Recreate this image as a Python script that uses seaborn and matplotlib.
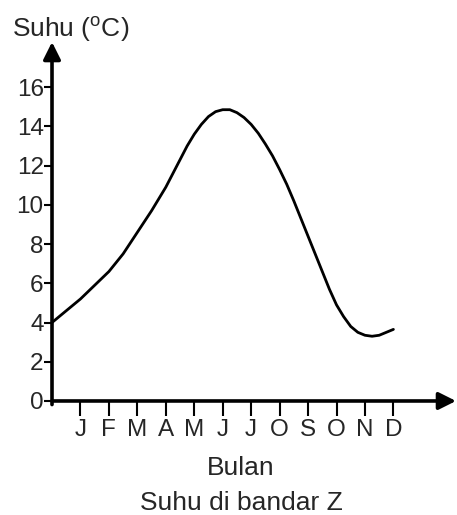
import matplotlib
matplotlib.use('Agg')
import matplotlib.pyplot as plt
import seaborn as sns

# Temperature curve, every quarter month (0 = y axis, 1 = Jan ... 12 = Dec)
bulan_x = [0, 0.25, 0.5, 0.75, 1, 1.25, 1.5, 1.75, 2, 2.25, 2.5, 2.75,
           3, 3.25, 3.5, 3.75, 4, 4.25, 4.5, 4.75, 5, 5.25, 5.5, 5.75,
           6, 6.25, 6.5, 6.75, 7, 7.25, 7.5, 7.75, 8, 8.25, 8.5, 8.75,
           9, 9.25, 9.5, 9.75, 10, 10.25, 10.5, 10.75, 11, 11.25, 11.5, 11.75, 12]
suhu = [4.0, 4.3, 4.6, 4.9, 5.2, 5.55, 5.9, 6.25, 6.6, 7.05, 7.5, 8.05,
        8.6, 9.15, 9.7, 10.3, 10.9, 11.6, 12.3, 13.0, 13.6, 14.1, 14.5, 14.75,
        14.85, 14.85, 14.7, 14.45, 14.1, 13.65, 13.1, 12.5, 11.8, 11.05, 10.2, 9.3,
        8.4, 7.5, 6.6, 5.7, 4.9, 4.3, 3.8, 3.5, 3.35, 3.3, 3.35, 3.5, 3.65]

month_ticks = [1, 2, 3, 4, 5, 6, 7, 8, 9, 10, 11, 12]
month_labels = ["J", "F", "M", "A", "M", "J", "J", "O", "S", "O", "N", "D"]
y_ticks = [0, 2, 4, 6, 8, 10, 12, 14, 16]

sns.set_theme(style="white")
plt.rcParams['font.family'] = ['Liberation Sans', 'DejaVu Sans']
plt.rcParams['mathtext.fontset'] = 'custom'
plt.rcParams['mathtext.rm'] = 'Liberation Sans'

fig = plt.figure(figsize=(4.57, 5.15), dpi=100)
ax = fig.add_axes([0.1138, 0.2214, 0.884, 0.697])

sns.lineplot(x=bulan_x, y=suhu, color='black', linewidth=2.0, ax=ax)

ax.set_xlim(0, 14.2)
ax.set_ylim(0, 18.3)

# axes drawn as arrows
for s in ax.spines.values():
    s.set_visible(False)
arrow = dict(arrowstyle='-|>', lw=2.6, color='black', mutation_scale=26, shrinkA=0, shrinkB=0)
ax.annotate('', xy=(0, 1), xytext=(0, -0.01), xycoords='axes fraction', arrowprops=arrow)
ax.annotate('', xy=(1, 0), xytext=(0, 0), xycoords='axes fraction', arrowprops=arrow)

ax.set_xticks(month_ticks)
ax.set_xticklabels(month_labels)
ax.set_yticks(y_ticks)
ax.tick_params(axis='x', direction='out', length=11, width=1.5, color='black',
               labelsize=17.5, pad=2, bottom=True)
ax.tick_params(axis='y', direction='out', length=6, width=1.5, color='black',
               labelsize=17.5, pad=0, left=True)

fig.text(12 / 457, 1 - 29 / 515, "Suhu ($^{\\mathrm{o}}$C)", fontsize=19, ha='left', va='center')
fig.text(241 / 457, 1 - 468 / 515, "Bulan", fontsize=19, ha='center', va='center')
fig.text(241 / 457, 1 - 503 / 515, "Suhu di bandar Z", fontsize=19, ha='center', va='center')

fig.savefig("out.png", dpi=100, facecolor='white')
